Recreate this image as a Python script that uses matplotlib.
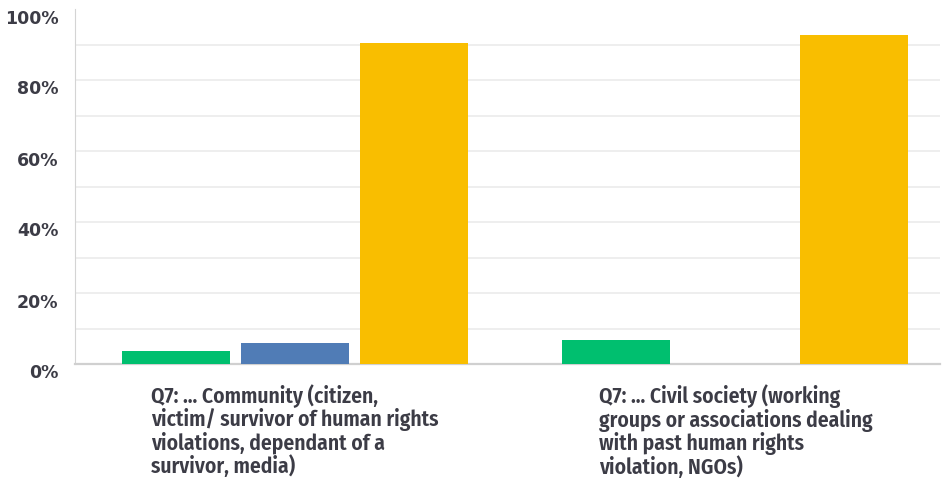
import numpy as np
import matplotlib.pyplot as plt
import matplotlib.transforms as mtransforms

categories = ['Q7: ... Community (citizen,\nvictim/ survivor of human rights\nviolations, dependant of a\nsurvivor, media)',
              'Q7: ... Civil society (working\ngroups or associations dealing\nwith past human rights\nviolation, NGOs)']
green_vals = [3.8, 6.8]
blue_vals = [5.8, 0.0]
yellow_vals = [90.3, 92.7]

colors = ['#00bf6f', '#507cb6', '#f9be00']
width = 0.245  # bar width
step = 0.27    # spacing between bars inside a group

fig = plt.figure(figsize=(9.44, 4.81), dpi=100)
ax = fig.add_axes([75 / 944, 116 / 481, 865 / 944, 355 / 481])

ind = np.arange(len(categories))
for k, vals in enumerate([green_vals, blue_vals, yellow_vals]):
    ax.bar(ind + (k - 1) * step, vals, width, color=colors[k], zorder=3)

ax.set_ylim(0, 100)
ax.set_xlim(-0.498, 1.464)
ax.set_yticks(np.arange(0, 101, 20))
ax.set_yticklabels(['%d%%' % v for v in range(0, 101, 20)],
                   fontsize=12.5, fontweight='bold', color='#3c3c46', family='DejaVu Sans')
ax.set_yticks(np.arange(10, 100, 20), minor=True)
ax.yaxis.grid(True, which='both', color='#ebebeb', linewidth=1.2, zorder=0)
ax.yaxis.get_gridlines()[-1].set_visible(False)
ax.tick_params(axis='y', which='both', length=0, pad=12)
# tick labels sit a little below their gridlines
shift = mtransforms.ScaledTranslation(0, -6.5 / 100, fig.dpi_scale_trans)
for t in ax.get_yticklabels():
    t.set_transform(t.get_transform() + shift)

ax.set_xticks(ind)
ax.set_xticklabels(categories, fontsize=15.5, fontweight='semibold', color='#3c3c46',
                   family=['Fira Sans Condensed', 'DejaVu Sans'], linespacing=1.02)
for t in ax.get_xticklabels():
    t.set_multialignment('left')
ax.tick_params(axis='x', length=0, pad=14)

for side in ['top', 'right']:
    ax.spines[side].set_visible(False)
ax.spines['left'].set_color('#d4d4d4')
ax.spines['bottom'].set_color('#d0d0d0')
ax.spines['bottom'].set_linewidth(1.6)

fig.savefig('out.png', dpi=100)
